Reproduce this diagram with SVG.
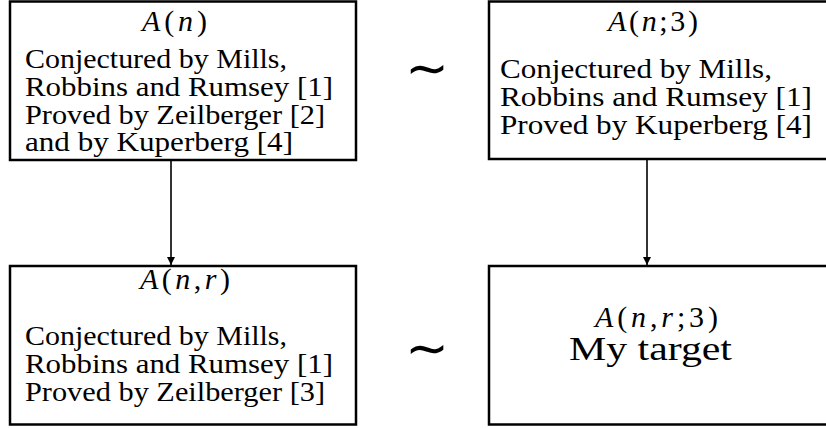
<svg xmlns="http://www.w3.org/2000/svg" width="826" height="428" viewBox="0 0 826 428">
<style>
.box{fill:#fff;stroke:#000;stroke-width:2.5}
.t{font-family:"Liberation Serif","Times New Roman",serif;font-size:27px;fill:#000}
.m{font-family:"Liberation Serif","Times New Roman",serif;font-size:30px;fill:#000}
.i{font-style:italic}
.big{font-family:"Liberation Serif","Times New Roman",serif;font-size:33px;fill:#000}
.sim{font-family:"DejaVu Sans",sans-serif;font-size:52px;fill:#000}
.conn{stroke:#000;stroke-width:1.6;fill:none}
</style>
<defs>
<marker id="ah" viewBox="0 0 8 10" refX="8" refY="5" markerWidth="8" markerHeight="10" markerUnits="userSpaceOnUse" orient="auto">
<path d="M0,1 L8,5 L0,9 Z" fill="#000"/>
</marker>
</defs>
<g id="connectors">
<line class="conn" x1="171" y1="161" x2="171" y2="265" marker-end="url(#ah)"/>
<line class="conn" x1="647" y1="160" x2="647" y2="265" marker-end="url(#ah)"/>
</g>
<g id="node-An">
<rect class="box" x="10" y="1.5" width="346" height="158.5"/>
<text class="m" x="142" y="31" textLength="65" lengthAdjust="spacing"><tspan class="i">A</tspan>(<tspan class="i">n</tspan>)</text>
<text class="t" x="25" y="68" textLength="262" lengthAdjust="spacingAndGlyphs">Conjectured by Mills,</text>
<text class="t" x="25" y="96" textLength="308" lengthAdjust="spacingAndGlyphs">Robbins and Rumsey [1]</text>
<text class="t" x="25" y="124" textLength="300" lengthAdjust="spacingAndGlyphs">Proved by Zeilberger [2]</text>
<text class="t" x="25" y="151" textLength="268" lengthAdjust="spacingAndGlyphs">and by Kuperberg [4]</text>
</g>
<g id="sim-top">
<text class="sim" x="427" y="86" text-anchor="middle">∼</text>
</g>
<g id="node-An3">
<rect class="box" x="489" y="1.5" width="345" height="157.5"/>
<text class="m" x="608" y="31" textLength="90" lengthAdjust="spacing"><tspan class="i">A</tspan>(<tspan class="i">n</tspan>;3)</text>
<text class="t" x="500" y="78" textLength="272" lengthAdjust="spacingAndGlyphs">Conjectured by Mills,</text>
<text class="t" x="500" y="106" textLength="312" lengthAdjust="spacingAndGlyphs">Robbins and Rumsey [1]</text>
<text class="t" x="500" y="134" textLength="312" lengthAdjust="spacingAndGlyphs">Proved by Kuperberg [4]</text>
</g>
<g id="node-Anr">
<rect class="box" x="10" y="266" width="346" height="158.5"/>
<text class="m" x="140" y="289" textLength="90" lengthAdjust="spacing"><tspan class="i">A</tspan>(<tspan class="i">n</tspan>,<tspan class="i">r</tspan>)</text>
<text class="t" x="25" y="345" textLength="262" lengthAdjust="spacingAndGlyphs">Conjectured by Mills,</text>
<text class="t" x="25" y="373" textLength="308" lengthAdjust="spacingAndGlyphs">Robbins and Rumsey [1]</text>
<text class="t" x="25" y="401" textLength="300" lengthAdjust="spacingAndGlyphs">Proved by Zeilberger [3]</text>
</g>
<g id="sim-bottom">
<text class="sim" x="427" y="366" text-anchor="middle">∼</text>
</g>
<g id="node-Anr3">
<rect class="box" x="489" y="266" width="345" height="158.5"/>
<text class="m" x="595" y="327" textLength="123" lengthAdjust="spacing"><tspan class="i">A</tspan>(<tspan class="i">n</tspan>,<tspan class="i">r</tspan>;3)</text>
<text class="big" x="569" y="360" textLength="163" lengthAdjust="spacingAndGlyphs">My target</text>
</g>
</svg>
